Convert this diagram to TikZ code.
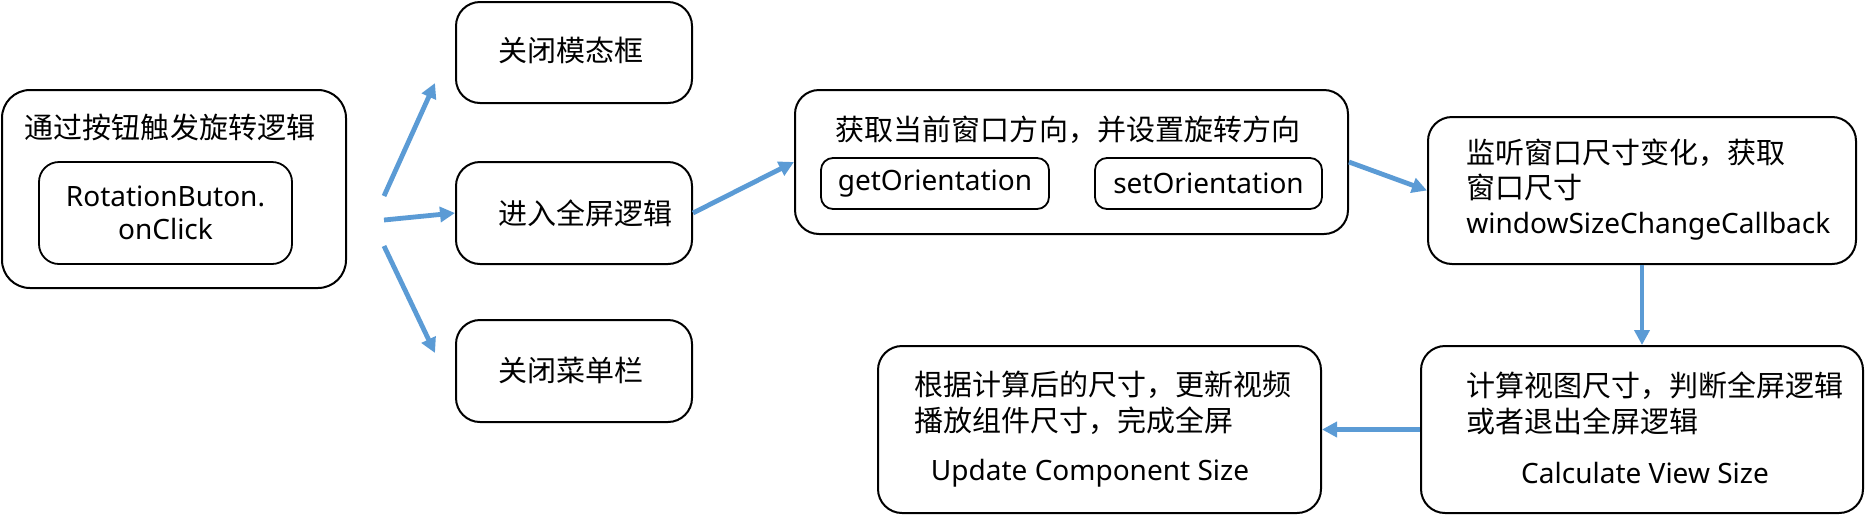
\documentclass[tikz,border=0pt]{standalone}
\usepackage{fontspec}
\setmainfont{Noto Sans}
\newfontfamily\cjk[Scale=1.036]{Noto Sans CJK SC}
\usetikzlibrary{arrows.meta}
\definecolor{flowblue}{HTML}{5B9BD5}

\begin{document}
\begin{tikzpicture}[x=0.5pt, y=-0.5pt,
        txt/.style = {inner sep=0pt, font=\fontsize{14}{17.5}\selectfont},
        box/.style = {draw, line width=1pt, rounded corners=12pt},
        subbox/.style = {draw, line width=0.9pt, rounded corners=6pt,
            font=\fontsize{14}{17.5}\selectfont},
        arrow/.style = {flowblue, line width=2.4pt, -{Triangle[length=7.5pt,width=7.5pt]}}]
                \useasboundingbox (0,0) rectangle (1873,515);

                \node[box, rounded corners=14pt, minimum width=172pt, minimum height=99pt]
                    (trigger) at (174,189) {};
                \node[txt] (triggerT) at (170,127) {\cjk 通过按钮触发旋转逻辑};
                \node[subbox, rounded corners=10pt, minimum width=126.5pt, minimum height=51pt, align=center]
                    (button) at (165.5,213) {RotationButon.\\[-1pt]onClick};

                \node[box, minimum width=118pt, minimum height=50.5pt]
                    (closeModal) at (574,52.5) {};
                \node[txt, anchor=west] (closeModalT) at (498,50) {\cjk 关闭模态框};
                \node[box, minimum width=118pt, minimum height=51pt]
                    (fullscreen) at (574,213) {};
                \node[txt, anchor=west] (fullscreenT) at (498,213) {\cjk 进入全屏逻辑};
                \node[box, minimum width=118pt, minimum height=51pt]
                    (closeMenu) at (574,371) {};
                \node[txt, anchor=west] (closeMenuT) at (498,370) {\cjk 关闭菜单栏};

                \node[box, minimum width=276.5pt, minimum height=72pt]
                    (orient) at (1071.5,162) {};
                \node[txt] (orientT) at (1068,130) {\cjk 获取当前窗口方向，并设置旋转方向};
                \node[subbox, minimum width=114pt, minimum height=25.5pt]
                    (getOrient) at (935,183.5) {getOrientation};
                \node[subbox, minimum width=113.5pt, minimum height=25.5pt]
                    (setOrient) at (1208.5,183.5) {setOrientation};

                \node[box, minimum width=214pt, minimum height=73.5pt]
                    (listen) at (1642,190.5) {};
                \node[txt, anchor=west, align=left] (listenT) at (1466,190)
                    {{\cjk 监听窗口尺寸变化，获取}\\{\cjk 窗口尺寸}\\windowSizeChangeCallback};

                \node[box, minimum width=221pt, minimum height=83.5pt]
                    (calc) at (1642,429.5) {};
                \node[txt, anchor=west, align=left] (calcT) at (1466,403)
                    {{\cjk 计算视图尺寸，判断全屏逻辑}\\[0.5pt]{\cjk 或者退出全屏逻辑}};
                \node[txt] (calcE) at (1645,473) {Calculate View Size};

                \node[box, minimum width=221.5pt, minimum height=83.5pt]
                    (update) at (1099.5,429.5) {};
                \node[txt, anchor=west, align=left] (updateT) at (914,403)
                    {{\cjk 根据计算后的尺寸，更新视频}\\[0.5pt]{\cjk 播放组件尺寸，完成全屏}};
                \node[txt] (updateE) at (1090,473) {Update Component Size};

                \coordinate (fanUp) at (384,196);
                \coordinate (fanMid) at (384,220);
                \coordinate (fanDown) at (384,246);
                \coordinate (tipUp) at (435,83);
                \coordinate (tipDown) at (435,353);

                \draw[arrow] (fanUp) -- (tipUp);
                \draw[arrow] (fanMid) -- (fullscreen.west);
                \draw[arrow] (fanDown) -- (tipDown);
                \draw[arrow] (fullscreen.east) -- (orient.west);
                \draw[arrow] (orient.east) -- (listen.west);
                \draw[arrow] (listen.south) -- (calc.north);
                \draw[arrow] (calc.west) -- (update.east);
            \end{tikzpicture}
\end{document}
